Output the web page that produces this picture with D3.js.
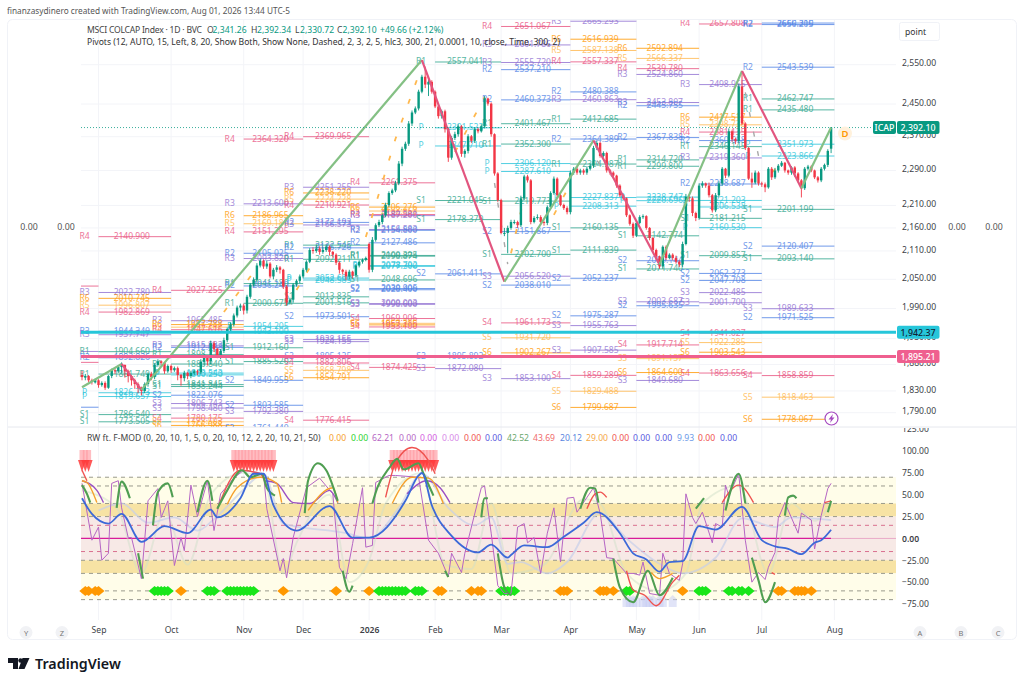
<!DOCTYPE html>
<html>
<head>
<meta charset="utf-8">
<title>MSCI COLCAP Index</title>
<script src="https://cdn.jsdelivr.net/npm/d3@7"></script>
<style>
  body { margin: 0; background: #fff; }
  text { font-family: "Noto Sans", "Open Sans", sans-serif; }
</style>
</head>
<body>
<svg id="chart" width="1024" height="685"></svg>
<script>
// daily candles, one value per session
const opens = [
  1860,1855,1858,1850,1846,1850,1841,1845,1836,1858,
  1869,1867,1875,1879,1867,1858,1850,1843,1836,1830,
  1843,1862,1856,1879,1886,1883,1867,1877,1869,1873,
  1860,1854,1864,1858,1864,1867,1865,1885,1894,1886,
  1921,1910,1898,1906,1927,1949,1958,1976,1992,1996,
  1986,2014,2039,2049,2079,2089,2077,2083,2056,2070,
  2075,2070,2035,2002,2008,2039,2047,2056,2070,2087,
  2112,2110,2115,2108,2112,2119,2108,2102,2085,2070,
  2066,2056,2066,2058,2079,2087,2091,2125,2070,2134,
  2166,2173,2188,2211,2238,2244,2260,2306,2341,2353,
  2402,2429,2439,2481,2519,2499,2506,2481,2444,2420,
  2432,2388,2320,2367,2376,2395,2329,2336,2371,2360,
  2388,2383,2395,2464,2451,2376,2283,2222,2149,2149,
  2160,2173,2173,2166,2226,2276,2267,2173,2182,2184,
  2173,2171,2206,2238,2271,2233,2211,2204,2195,2285,
  2294,2285,2290,2285,2294,2301,2343,2355,2324,2331,
  2290,2285,2278,2255,2233,2226,2188,2169,2143,2171,
  2184,2186,2160,2138,2112,2098,2077,2119,2095,2102,
  2095,2087,2081,2125,2229,2226,2193,2182,2255,2260,
  2255,2233,2199,2233,2260,2294,2278,2383,2364,2360,
  2494,2402,2343,2271,2262,2285,2260,2258,2251,2294,
  2274,2290,2301,2308,2290,2285,2297,2283,2267,2249,
  2294,2299,2290,2274,2267,2294,2303,2341.26
];
const highs = [
  1868,1862,1860,1853,1853,1852,1848,1848,1860,1872,
  1872,1878,1884,1880,1870,1860,1853,1846,1838,1846,
  1865,1866,1882,1890,1888,1885,1880,1880,1876,1876,
  1862,1868,1866,1868,1870,1870,1890,1900,1896,1926,
  1925,1912,1910,1932,1952,1962,1980,1996,2000,2000,
  2018,2042,2054,2084,2094,2092,2090,2086,2074,2080,
  2078,2072,2038,2012,2042,2050,2060,2074,2090,2116,
  2118,2124,2120,2118,2124,2122,2110,2105,2088,2072,
  2070,2070,2068,2082,2090,2094,2098,2128,2140,2170,
  2178,2192,2216,2242,2248,2266,2312,2346,2358,2408,
  2434,2444,2486,2524,2545,2512,2510,2484,2448,2436,
  2436,2392,2372,2382,2400,2398,2340,2376,2374,2392,
  2392,2400,2470,2466,2454,2378,2286,2225,2160,2165,
  2178,2178,2176,2232,2280,2280,2270,2186,2190,2188,
  2176,2210,2242,2276,2274,2236,2214,2208,2290,2298,
  2298,2294,2294,2298,2305,2348,2360,2358,2335,2334,
  2293,2288,2280,2258,2236,2228,2190,2172,2175,2188,
  2190,2188,2162,2140,2115,2100,2122,2122,2105,2105,
  2100,2090,2130,2236,2234,2230,2196,2260,2265,2262,
  2262,2236,2238,2265,2298,2296,2390,2386,2368,2500,
  2530,2405,2345,2285,2290,2288,2264,2262,2298,2298,
  2296,2305,2312,2310,2292,2300,2300,2286,2270,2298,
  2303,2302,2292,2277,2298,2306,2340,2392.34
];
const lows = [
  1850,1850,1846,1842,1844,1836,1838,1832,1834,1854,
  1862,1864,1864,1855,1846,1840,1834,1826,1822,1826,
  1838,1850,1852,1876,1878,1862,1864,1864,1866,1850,
  1840,1848,1852,1854,1860,1860,1862,1878,1878,1880,
  1904,1892,1890,1902,1923,1945,1954,1972,1985,1978,
  1980,2010,2035,2045,2075,2072,2072,2052,2050,2065,
  2062,2030,1996,1998,2002,2035,2042,2052,2066,2084,
  2104,2106,2102,2104,2108,2100,2096,2080,2062,2060,
  2048,2050,2052,2054,2075,2083,2088,2064,2065,2130,
  2162,2168,2184,2207,2234,2240,2256,2300,2336,2348,
  2396,2425,2434,2477,2490,2470,2476,2440,2414,2414,
  2380,2310,2315,2362,2370,2322,2320,2330,2355,2355,
  2378,2380,2390,2446,2370,2278,2218,2146,2142,2105,
  2156,2168,2160,2162,2222,2262,2168,2170,2178,2168,
  2165,2166,2202,2234,2228,2208,2200,2190,2190,2280,
  2280,2280,2280,2280,2290,2296,2338,2320,2320,2285,
  2280,2272,2250,2229,2222,2184,2165,2138,2140,2168,
  2180,2156,2133,2107,2094,2072,2072,2090,2092,2090,
  2083,2076,2076,2122,2218,2186,2175,2178,2250,2250,
  2228,2194,2195,2228,2255,2272,2274,2358,2352,2356,
  2398,2338,2268,2250,2258,2255,2252,2240,2248,2268,
  2270,2285,2298,2285,2280,2280,2275,2262,2228,2245,
  2290,2286,2270,2262,2263,2290,2298,2330.72
];
const closes = [
  1856,1858,1850,1847,1850,1841,1845,1836,1858,1869,
  1867,1875,1879,1867,1858,1850,1843,1836,1830,1843,
  1862,1856,1879,1886,1883,1867,1877,1869,1873,1860,
  1854,1864,1858,1864,1867,1865,1885,1894,1886,1921,
  1910,1898,1906,1927,1949,1958,1976,1992,1996,1986,
  2014,2039,2049,2079,2089,2077,2083,2056,2070,2075,
  2070,2035,2002,2008,2039,2047,2056,2070,2087,2112,
  2110,2115,2108,2112,2119,2108,2102,2085,2070,2066,
  2056,2066,2058,2079,2087,2091,2095,2070,2134,2166,
  2173,2188,2211,2238,2244,2260,2306,2341,2353,2402,
  2429,2439,2481,2519,2499,2506,2481,2444,2420,2432,
  2388,2320,2367,2376,2395,2329,2336,2371,2360,2388,
  2383,2395,2464,2451,2376,2283,2222,2149,2149,2160,
  2173,2173,2166,2226,2276,2267,2173,2182,2184,2173,
  2171,2206,2238,2271,2233,2211,2204,2195,2285,2294,
  2285,2290,2285,2294,2301,2343,2355,2324,2331,2290,
  2285,2278,2255,2233,2226,2188,2169,2143,2171,2184,
  2186,2160,2138,2112,2098,2077,2119,2095,2102,2095,
  2087,2081,2125,2229,2226,2193,2182,2255,2260,2255,
  2233,2199,2233,2260,2294,2278,2383,2364,2360,2494,
  2402,2343,2271,2262,2285,2260,2258,2251,2294,2274,
  2290,2301,2308,2290,2285,2297,2283,2267,2249,2294,
  2299,2290,2274,2267,2294,2303,2336,2392.10
];

// month ticks, as session numbers
const monthBars = [5, 27, 49, 67, 87, 107, 127, 148, 168, 187, 206, 228];
const monthLabels = ["Sep", "Oct", "Nov", "Dec", "2026", "Feb", "Mar", "Apr", "May", "Jun", "Jul", "Aug"];
const priceTicks = [2550, 2450, 2370, 2290, 2210, 2160, 2110, 2050, 1990, 1930, 1880, 1830, 1790];
const oscTicks = [125, 100, 75, 50, 25, 0, -25, -50, -75];

// pivot levels, one list per month
const pivotsSep = [["R4",2140.900],["R3",2022.780],["R6",2010.745],["R5",1996.807],["R4",1982.869],["R2",1944.340],["R3",1937.747],["R1",1904.660],["R2",1892.826],["R1",1861.749],["P",1826.713],["P",1819.657],["S1",1786.540],["S1",1773.505]];
const pivotsOct = [["R4",2027.255],["R3",1965.485],["R6",1957.788],["R5",1952.702],["R4",1947.616],["R3",1915.883],["R2",1912.888],["R1",1898.714],["R1",1880.840],["P",1863.543],["P",1860.250],["S1",1841.845],["S1",1838.244],["S2",1822.076],["S3",1806.743],["S3",1798.480],["S4",1780.175],["S5",1773.503],["S6",1766.988]];
const pivotsNov = [["R4",2364.320],["R3",2213.600],["R6",2186.965],["R5",2169.186],["R4",2151.295],["R2",2105.025],["R3",2093.820],["R1",2041.180],["R2",2036.240],["R1",2000.675],["P",1954.205],["P",1943.100],["S1",1912.160],["S1",1885.520],["S2",1849.955],["S2",1803.585],["S3",1792.380],["S2",1761.440]];
const pivotsDec = [["R4",2369.965],["R3",2251.255],["R6",2238.220],["R5",2224.228],["R4",2210.921],["R2",2172.193],["R3",2166.573],["R1",2122.545],["R2",2116.726],["R1",2092.211],["P",2052.600],["P",2048.585],["S1",2013.835],["S1",2001.516],["S2",1973.501],["S3",1928.155],["S3",1924.155],["S2",1895.125],["S4",1882.806],["S5",1868.798],["S6",1854.791],["S4",1776.415]];
const pivotsJan = [["R4",2261.375],["R6",2206.276],["R5",2197.450],["R4",2189.581],["R3",2187.200],["R3",2156.583],["R2",2154.800],["R2",2127.486],["R1",2100.395],["R1",2098.874],["P",2078.792],["P",2077.300],["S1",2048.696],["S2",2030.905],["S2",2028.400],["S3",2000.003],["S3",1998.600],["S4",1969.906],["S5",1960.300],["S6",1957.215],["S4",1953.100],["S4",1874.425]];
const pivotsFeb = [["R1",2557.041],["P",2391.523],["P",2347.710],["S1",2221.045],["S1",2178.379],["S2",2061.411],["S2",1895.892],["S3",1872.080]];
const pivotsMar = [["R4",2651.067],["R3",2601.786],["R3",2555.720],["R2",2537.210],["R2",2460.373],["R1",2401.467],["R1",2352.300],["P",2306.120],["P",2287.610],["S1",2219.773],["S2",2151.867],["S1",2102.700],["S3",2056.520],["S2",2038.010],["S4",1961.173],["S5",1931.720],["S6",1902.267],["S3",1853.100]];
const pivotsApr = [["R3",2665.293],["R6",2616.939],["R5",2587.138],["R4",2557.337],["R2",2480.388],["R3",2460.863],["R1",2412.685],["R2",2364.389],["R1",2304.987],["P",2227.837],["P",2208.313],["S1",2160.135],["S1",2111.839],["S2",2052.237],["S2",1975.287],["S3",1955.763],["S3",1907.585],["S4",1859.289],["S5",1829.488],["S6",1799.687]];
const pivotsMay = [["R6",2592.894],["R5",2566.337],["R4",2539.780],["R3",2524.860],["R3",2453.807],["R2",2445.755],["R2",2367.838],["R1",2314.720],["R1",2299.800],["P",2228.747],["P",2220.696],["S1",2142.774],["S2",2089.144],["S1",2071.740],["S3",2003.687],["S2",1995.635],["S4",1917.714],["S5",1891.157],["S6",1864.600],["S3",1849.680]];
const pivotsJun = [["R4",2657.808],["R3",2498.965],["R6",2417.517],["R5",2398.738],["R4",2381.135],["R2",2360.668],["R1",2346.145],["R3",2319.360],["R2",2258.687],["P",2221.203],["P",2206.538],["S1",2181.215],["P",2160.530],["S1",2099.857],["S2",2062.373],["S2",2047.708],["S3",2022.485],["S3",2001.700],["S4",1941.027],["S5",1922.285],["S6",1903.543],["S4",1863.656]];
const pivotsJul = [["R2",2660.310],["R2",2656.205],["R2",2543.539],["R1",2462.747],["R1",2435.480],["P",2351.973],["P",2323.866],["S1",2201.199],["S2",2120.407],["S1",2093.140],["S3",1989.633],["S2",1971.525],["S4",1858.859],["S5",1818.463],["S6",1778.067]];
const pivotMonths = [pivotsSep, pivotsOct, pivotsNov, pivotsDec, pivotsJan, pivotsFeb, pivotsMar, pivotsApr, pivotsMay, pivotsJun, pivotsJul];
const stubLevels = [["R4",2036],["R3",1905],["R4",1884],["R2",1800]];

// zigzag turning points [session, price]
const zigzag = [[0,1837],[12,1881],[18,1832],[103,2562],[128,2045],[155,2361],[175,2081],[200,2534],[218,2249],[227,2392.1]];
const dashUp = [
  [[43,1983],[52,2065]],
  [[65,2028],[70,2086]],
  [[86,2140],[95,2365],[102,2523]],
  [[113,2333],[122,2467]],
  [[130,2105],[134,2228]],
  [[143,2189],[148,2259]],
  [[209,2285],[211,2300]]
];
const dashDown = [
  [[125,2261],[129,2082]],
  [[156,2313],[161,2273]],
  [[201,2479],[205,2324]]
];

const lastClose = 2392.10;
const upperLine = 1942.37;
const lowerLine = 1895.21;

// oscillator
const oscBands = [[70,40,"#fffde9"],[40,25,"#f7e3a4"],[25,-25,"#f7e9e6"],[-25,-40,"#f7e3a4"],[-40,-70,"#fffde9"]];
const oscGrayLevels = [70,60,40,25,-25,-40,-60,-70];
const oscPinkLevels = [15,-15];
const fastLine = [[0,63],[3,-2],[5,13],[6,-25],[8,-17],[9,63],[11,66],[12,35],[14,1],[15,1],[18,-46],[20,43],[23,57],[24,24],[26,43],[28,-31],[30,1],[31,-14],[33,61],[35,25],[38,66],[40,9],[42,51],[46,69],[49,78],[55,74],[56,34],[60,-37],[61,-23],[62,-45],[64,1],[68,58],[72,69],[76,51],[78,-33],[80,-46],[82,-6],[85,58],[86,-10],[88,-8],[89,64],[93,72],[95,72],[102,70],[105,-2],[108,-17],[111,-44],[112,-17],[115,-39],[116,-17],[121,58],[122,60],[124,6],[126,-54],[128,-63],[130,-63],[131,-27],[132,13],[134,17],[135,-5],[137,1],[139,-40],[141,6],[143,35],[145,-27],[147,46],[149,47],[150,30],[155,58],[157,29],[159,-22],[161,-23],[165,-40],[167,-40],[169,-42],[170,-27],[172,-63],[175,-65],[176,-17],[178,-40],[181,-48],[182,-29],[183,51],[185,24],[186,17],[188,30],[191,-5],[192,17],[194,13],[195,61],[196,49],[199,74],[201,-2],[203,-50],[205,-39],[207,-47],[208,-33],[210,-16],[211,23],[213,41],[217,6],[218,29],[221,21],[222,-12],[224,26],[226,57],[227,63]];
const blueLine = [[0,46],[3,28],[8,17],[12,28],[18,-4],[25,14],[32,6],[39,33],[41,24],[48,46],[52,74],[55,74],[58,38],[65,9],[75,37],[82,1],[87,1],[98,43],[102,72],[103,75],[106,38],[112,3],[120,-16],[124,-7],[129,-22],[130,-19],[134,-8],[141,-10],[146,2],[152,18],[156,30],[163,6],[167,-17],[171,-24],[175,-38],[178,-27],[182,-26],[187,14],[192,10],[200,36],[206,-2],[210,-9],[214,-12],[218,-18],[222,-5],[224,-2],[227,10]];
const slateLine = [[5,32],[12,40],[20,18],[28,24],[35,9],[40,22],[49,56],[55,74],[61,17],[80,6],[87,0],[96,35],[103,74],[111,35],[119,15],[124,24],[129,-29],[133,-27],[141,-40],[147,-27],[157,29],[165,0],[175,-29],[182,-40],[192,-22],[200,23],[210,13],[215,24],[227,21]];
const paleLine = [[0,55],[10.5,35],[18,-40],[25,30],[32,-30],[39,50],[49,75],[55,70],[61,-40],[65,-5],[75,50],[81,-50],[87,-25],[92,40],[103,75],[110,-30],[118,-35],[124,40],[130,-40],[140,-30],[152,45],[157,40],[165,-40],[175,-60],[183,-40],[188,40],[199,60],[208,-40],[215,40],[222,20],[227,40]];
const greenRuns = [
  [[0,61],[1.5,51],[2.5,41]],[[10.5,35],[12,65],[14.5,46]],[[17,-17],[18.5,-46]],
  [[21.5,15],[23,53],[26,63],[27.5,47]],[[35,30],[38,66],[39.5,43]],
  [[41,34],[44,55],[48.5,78],[51,70],[54.5,74],[56,58],[58.5,49]],
  [[67.5,29],[68.5,66],[71.5,86],[74,78],[77.5,43]],[[79,-37],[81,-61],[82,-54]],
  [[88,40],[89.5,58],[93,80],[95.5,91],[97.5,79],[102,86],[103.5,74],[106.5,49]],
  [[110,-37],[111,-44]],[[121,24],[122,46],[123,46]],[[126,-17],[128,-56],[130,-65]],
  [[151,34],[154,58],[155.5,57],[156.5,41]],
  [[161,-23],[163,-56],[167,-73],[171.5,-37],[175,-65],[179,-45]],
  [[186,34],[188.5,46]],[[195,32],[199,74],[201,40]],
  [[203,-22],[205,-48],[207,-73],[210,-50]],[[213,26],[214,47],[215.5,49],[216.5,46]],[[226,30],[227,43]]
];
const redRuns = [
  [[0,78],[1.5,66]],[[41,34],[48,78],[54,74],[56,60]],[[92,47],[95,86],[100,104],[105,89],[107,74]],
  [[153,34],[155.5,51],[157,53],[159,47]],[[165,-37],[167,-59],[170.5,-65],[174,-77],[179,-50],[181,-42]],
  [[194,41],[199,61],[203.5,41]],[[209,-39],[210,-41]],[[225,41],[227,43]]
];
const orangeRuns = [
  [[0,66],[1.5,64],[4.5,41]],[[44,39],[47,58],[54,70],[59,63],[60.5,41]],
  [[68.5,32],[76,58],[77.5,41]],[[94,40],[100,70],[105,69],[109.5,40]],[[172.5,-39],[175,-46],[179,-40]]
];
const violetRuns = [
  [[0,66],[4.5,55],[6.5,41]],[[55.5,66],[59,63],[64,41],[69,40],[75,55],[77.5,41]],[[98.5,51],[104.5,66],[108.5,58],[111.5,41]]
];
const orangeDiamonds = [1,2,4,5,30,61,77,87,108,109,118,120,121,145,146,147,157,158,159,161,182,211,212,216,217,218,219,221];
const greenDiamonds = [22,23,24,25,26,38,39,40,44,45,46,47,48,49,50,51,52,90,91,92,93,94,95,96,97,98,101,102,103,127,128,129,130,131,165,166,187,188,189,196,197,199,200,202];
const topSignals = [0,1,2,46,47,48,49,50,51,52,53,54,55,56,57,58,94,95,96,97,98,99,100,101,102,103,104,105,106,107];
const bottomSignals = [165,166,167,168,170,171,172,173,175,176,179];

// legend values of the oscillator
const oscValues = ["0.00","0.00","62.21","0.00","0.00","0.00","0.00","0.00","42.52","43.69","20.12","29.00","0.00","0.00","0.00","9.93","0.00","0.00"];
const oscValueColors = ["#f5a02c","#2ed32e","#b565c4","#b565c4","#d45ce0","#d88ae8","#ef5350","#5a5ae0","#6aa86c","#ef6b6b","#5a86e0","#f5a94a","#ef5350","#5a5ae0","#5a5ae0","#6b9ae8","#ef5350","#5a5ae0"];
const oscValueSpots = [329,351,372,399,420,442,464,485,507,533,560,586,612,633,655,677,698,720];

const pivotColors = {
  "1": "#2da58c", "2": "#4f82e6", "3": "#8f6fd2", "4": "#e9527f",
  "5": "#ffb84d", "6": "#ff9800", "P": "#27c4da"
};
const pivotColor = (name) => pivotColors[name.slice(-1)];
const upColor = "#089981";
const downColor = "#f23645";

const svg = d3.select("#chart");
const paneLeft = 81, paneRight = 896, paneTop = 20, priceBottom = 427, oscBottom = 620;

const xBar = d3.scaleLinear().domain([0, 228]).range([82, 834.4]);
const yPrice = d3.scaleLog().domain([2550, 1790]).range([64.7, 412.7]);
const yOsc = d3.scaleLinear().domain([100, -75]).range([451, 604]);

// frame
svg.append("rect").attr("x", 7.5).attr("y", 19.5).attr("width", 1009).attr("height", 620)
  .attr("rx", 5).attr("fill", "#fff").attr("stroke", "#f0f2f7");

const defs = svg.append("defs");
defs.append("clipPath").attr("id", "priceClip").append("rect")
  .attr("x", 8).attr("y", paneTop).attr("width", paneRight - 8).attr("height", priceBottom - paneTop);
defs.append("clipPath").attr("id", "oscAxisClip").append("rect")
  .attr("x", paneRight).attr("y", priceBottom + 1).attr("width", 120).attr("height", oscBottom - priceBottom);

// grid
svg.append("g").selectAll("line").data(monthBars).join("line")
  .attr("x1", (d) => xBar(d)).attr("x2", (d) => xBar(d))
  .attr("y1", paneTop).attr("y2", oscBottom)
  .attr("stroke", "#f3f4f8");
svg.append("g").selectAll("line").data(priceTicks).join("line")
  .attr("x1", paneLeft).attr("x2", paneRight)
  .attr("y1", (d) => yPrice(d)).attr("y2", (d) => yPrice(d))
  .attr("stroke", "#f3f4f8");
svg.append("line").attr("x1", 8).attr("x2", 1016).attr("y1", priceBottom).attr("y2", priceBottom).attr("stroke", "#e6e8ee");

const pricePane = svg.append("g").attr("clip-path", "url(#priceClip)");

// pivots
const stubs = pricePane.append("g");
stubs.selectAll("line").data(stubLevels).join("line")
  .attr("x1", xBar(0) - 1).attr("x2", xBar(monthBars[0]))
  .attr("y1", (d) => yPrice(d[1])).attr("y2", (d) => yPrice(d[1]))
  .attr("stroke", (d) => pivotColor(d[0])).attr("opacity", 0.8);

pivotMonths.forEach((levels, m) => {
  const x1 = xBar(monthBars[m]);
  const x2 = xBar(monthBars[m + 1]);
  const g = pricePane.append("g");
  g.selectAll("line").data(levels).join("line")
    .attr("x1", x1).attr("x2", x2)
    .attr("y1", (d) => yPrice(d[1])).attr("y2", (d) => yPrice(d[1]))
    .attr("stroke", (d) => pivotColor(d[0])).attr("stroke-width", 1).attr("opacity", 0.8);
  g.selectAll("text.value").data(levels).join("text").attr("class", "value")
    .attr("x", (x1 + x2) / 2 - 3).attr("y", (d) => yPrice(d[1]) + 2.5)
    .attr("text-anchor", "middle").attr("font-size", 8.5)
    .attr("fill", (d) => pivotColor(d[0])).attr("opacity", 0.8)
    .text((d) => d[1].toFixed(3));
  g.selectAll("text.name").data(levels).join("text").attr("class", "name")
    .attr("x", x1 - 14).attr("y", (d) => yPrice(d[1]) + 2.5)
    .attr("text-anchor", "middle").attr("font-size", 8.5)
    .attr("fill", (d) => pivotColor(d[0])).attr("opacity", 0.8)
    .text((d) => d[0]);
});

// dashed zigzag hints
const priceLine = d3.line().x((d) => xBar(d[0])).y((d) => yPrice(d[1]));
pricePane.append("g").selectAll("path").data(dashUp).join("path")
  .attr("d", priceLine).attr("fill", "none").attr("stroke", "#ffb84d")
  .attr("stroke-width", 1.8).attr("stroke-dasharray", "5 15");
pricePane.append("g").selectAll("path").data(dashDown).join("path")
  .attr("d", priceLine).attr("fill", "none").attr("stroke", "#a8a8a8")
  .attr("stroke-width", 1.4).attr("stroke-dasharray", "5 15");

// candles
const bars = closes.map((c, i) => ({ i, o: opens[i], h: highs[i], l: lows[i], c }));
const candles = pricePane.append("g");
candles.selectAll("line").data(bars).join("line")
  .attr("x1", (d) => xBar(d.i)).attr("x2", (d) => xBar(d.i))
  .attr("y1", (d) => yPrice(d.h)).attr("y2", (d) => yPrice(d.l))
  .attr("stroke", (d) => (d.c >= d.o ? upColor : downColor)).attr("stroke-width", 0.9);
candles.selectAll("rect").data(bars).join("rect")
  .attr("x", (d) => xBar(d.i) - 1.2).attr("width", 2.4)
  .attr("y", (d) => yPrice(Math.max(d.o, d.c)))
  .attr("height", (d) => Math.max(1, Math.abs(yPrice(d.o) - yPrice(d.c))))
  .attr("fill", (d) => (d.c >= d.o ? upColor : downColor));

// zigzag
d3.pairs(zigzag).forEach(([a, b]) => {
  pricePane.append("path").attr("d", priceLine([a, b])).attr("fill", "none")
    .attr("stroke", b[1] > a[1] ? "#84c084" : "#e2557f").attr("stroke-width", 2.2);
});

// last close and the two horizontal levels
svg.append("line").attr("x1", paneLeft).attr("x2", paneRight)
  .attr("y1", yPrice(lastClose)).attr("y2", yPrice(lastClose))
  .attr("stroke", upColor).attr("stroke-width", 0.8).attr("stroke-dasharray", "1 2");
svg.append("line").attr("x1", paneLeft).attr("x2", paneRight)
  .attr("y1", yPrice(upperLine)).attr("y2", yPrice(upperLine))
  .attr("stroke", "#26c6da").attr("stroke-width", 3);
svg.append("line").attr("x1", paneLeft).attr("x2", paneRight)
  .attr("y1", yPrice(lowerLine)).attr("y2", yPrice(lowerLine))
  .attr("stroke", "#ef5f8f").attr("stroke-width", 3);

// oscillator bands
svg.append("g").selectAll("rect").data(oscBands).join("rect")
  .attr("x", paneLeft).attr("width", paneRight - paneLeft)
  .attr("y", (d) => yOsc(d[0])).attr("height", (d) => yOsc(d[1]) - yOsc(d[0]))
  .attr("fill", (d) => d[2]);
svg.append("g").selectAll("line").data(oscGrayLevels).join("line")
  .attr("x1", paneLeft).attr("x2", paneRight)
  .attr("y1", (d) => yOsc(d)).attr("y2", (d) => yOsc(d))
  .attr("stroke", "#9a9a8c").attr("stroke-dasharray", "4 4");
svg.append("g").selectAll("line").data(oscPinkLevels).join("line")
  .attr("x1", paneLeft).attr("x2", paneRight)
  .attr("y1", (d) => yOsc(d)).attr("y2", (d) => yOsc(d))
  .attr("stroke", "#d9708f").attr("stroke-dasharray", "4 4");
svg.append("line").attr("x1", paneLeft).attr("x2", xBar(227))
  .attr("y1", yOsc(0)).attr("y2", yOsc(0)).attr("stroke", "#d81b9a").attr("stroke-width", 1.2);
svg.append("line").attr("x1", xBar(227)).attr("x2", paneRight)
  .attr("y1", yOsc(0)).attr("y2", yOsc(0)).attr("stroke", "#e9a9c8").attr("stroke-width", 1);

// oscillator signals
const signals = svg.append("g");
signals.selectAll("rect").data(topSignals).join("rect")
  .attr("x", (d) => xBar(d) - 2.5).attr("width", 5)
  .attr("y", yOsc(100) - 1).attr("height", 11)
  .attr("fill", "#ff9aa2").attr("opacity", 0.65);
signals.selectAll("path.tri").data(topSignals).join("path").attr("class", "tri")
  .attr("d", (d) => {
    const x = xBar(d), y = yOsc(100) + 9;
    return `M${x - 4},${y}L${x + 4},${y}L${x},${y + 12}Z`;
  })
  .attr("fill", "#ff3b3b").attr("opacity", 0.85);
signals.selectAll("path.low").data(bottomSignals).join("path").attr("class", "low")
  .attr("d", (d) => {
    const x = xBar(d), y = yOsc(-60);
    return `M${x - 4},${y + 8}L${x},${y + 4}L${x + 4},${y + 8}L${x + 4},${y + 16}L${x - 4},${y + 16}Z`;
  })
  .attr("fill", "#c9cdf2").attr("opacity", 0.55);
const diamond = (d) => {
  const x = xBar(d), y = yOsc(-60);
  return `M${x - 6},${y}L${x},${y - 5}L${x + 6},${y}L${x},${y + 5}Z`;
};
signals.selectAll("path.o").data(orangeDiamonds).join("path").attr("class", "o").attr("d", diamond).attr("fill", "#ff9800");
signals.selectAll("path.g").data(greenDiamonds).join("path").attr("class", "g").attr("d", diamond).attr("fill", "#19e619");

// oscillator lines
const oscLine = d3.line().x((d) => xBar(d[0])).y((d) => yOsc(d[1]));
const oscCurve = d3.line().x((d) => xBar(d[0])).y((d) => yOsc(d[1])).curve(d3.curveMonotoneX);
const oscGroup = svg.append("g").attr("fill", "none");
oscGroup.append("path").attr("d", oscCurve(paleLine)).attr("stroke", "#cfe0c9").attr("stroke-width", 1.8).attr("opacity", 0.5);
oscGroup.append("path").attr("d", oscCurve(slateLine)).attr("stroke", "#c6cfe9").attr("stroke-width", 1.8).attr("opacity", 0.7);
oscGroup.append("path").attr("d", oscLine(fastLine)).attr("stroke", "#b565c4").attr("stroke-width", 1);
const drawRuns = (runs, color, width) => {
  oscGroup.append("g").selectAll("path").data(runs).join("path")
    .attr("d", oscCurve).attr("stroke", color).attr("stroke-width", width);
};
drawRuns(violetRuns, "#9c4fc4", 1.4);
drawRuns(orangeRuns, "#f5a02c", 1.4);
drawRuns(redRuns, "#ef5350", 1.4);
drawRuns(greenRuns, "#4f9e52", 2.1);
oscGroup.append("path").attr("d", oscCurve(blueLine)).attr("stroke", "#3c69d8").attr("stroke-width", 1.8);

// axes
const priceAxis = d3.axisRight(yPrice).tickValues(priceTicks).tickFormat(d3.format(",.2f")).tickSize(0).tickPadding(6);
const gPrice = svg.append("g").attr("transform", `translate(${paneRight},-1.5)`).call(priceAxis);
const oscAxis = d3.axisRight(yOsc).tickValues(oscTicks).tickSize(0).tickPadding(6)
  .tickFormat((d) => d3.format(".2f")(d).replace("-", "\u2212"));
const gOsc = svg.append("g").attr("clip-path", "url(#oscAxisClip)")
  .append("g").attr("transform", `translate(${paneRight},0)`).call(oscAxis);
const timeAxis = d3.axisBottom(xBar).tickValues(monthBars).tickSize(0).tickPadding(6)
  .tickFormat((d, i) => monthLabels[i]);
const gTime = svg.append("g").attr("transform", `translate(0,${oscBottom + 1})`).call(timeAxis);
[gPrice, gOsc, gTime].forEach((g) => {
  g.select(".domain").remove();
  g.selectAll("text").attr("font-family", '"Noto Sans", sans-serif').attr("font-size", 8.6).attr("fill", "#3d3f47");
});
gOsc.selectAll(".tick").filter((d) => d === 0).select("text").attr("font-weight", 600);
gTime.selectAll(".tick").filter((d, i) => monthLabels[i] === "2026").select("text").attr("font-weight", 600);

// price tags
const tag = (x, w, y, fill, color, label, anchor) => {
  svg.append("rect").attr("x", x).attr("y", y - 6.5).attr("width", w).attr("height", 13).attr("rx", 2).attr("fill", fill);
  svg.append("text").attr("x", anchor).attr("y", y + 3.2).attr("text-anchor", "middle")
    .attr("font-size", 8.8).attr("font-weight", 500).attr("fill", color).text(label);
};
tag(873, 23, yPrice(lastClose), upColor, "#fff", "ICAP", 884.5);
tag(897, 42.5, yPrice(lastClose), upColor, "#fff", "2,392.10", 918);
tag(897, 42.5, yPrice(upperLine), "#26c6da", "#123", "1,942.37", 918);
tag(897, 42.5, yPrice(lowerLine), "#ef5f8f", "#fff", "1,895.21", 918);

// header text
svg.append("text").attr("x", 7).attr("y", 14).attr("font-size", 8.6).attr("fill", "#555")
  .attr("textLength", 283).attr("lengthAdjust", "spacingAndGlyphs")
  .text("finanzasydinero created with TradingView.com, Aug 01, 2026 13:44 UTC-5");

const legend1 = svg.append("text").attr("y", 33).attr("font-size", 8.6).attr("fill", "#444");
svg.append("text").attr("x", 87).attr("y", 33).attr("font-size", 8.6).attr("fill", "#444")
  .attr("textLength", 115).attr("lengthAdjust", "spacing")
  .text("MSCI COLCAP Index \u00b7 1D \u00b7 BVC");
[[207,"O","#444"],[212.5,"2,341.26",upColor],[251,"H","#444"],[257,"2,392.34",upColor],[295,"L","#444"],[300,"2,330.72",upColor],
 [337,"C","#444"],[342.5,"2,392.10",upColor],[380,"+49.66 (+2.12%)",upColor]]
  .forEach(([x, t, c]) => legend1.append("tspan").attr("x", x).attr("fill", c).text(t));

svg.append("text").attr("x", 87).attr("y", 45).attr("font-size", 8.6).attr("fill", "#333")
  .attr("textLength", 473).attr("lengthAdjust", "spacing")
  .text("Pivots (12, AUTO, 15, Left, 8, 20, Show Both, Show None, Dashed, 2, 3, 2, 5, hlc3, 300, 21, 0.0001, 10, close, Time, 300, 2)");

const legend2 = svg.append("text").attr("y", 441).attr("font-size", 8.6).attr("fill", "#444");
legend2.append("tspan").attr("x", 87).text("RW ft. F-MOD (0, 20, 10, 1, 5, 0, 20, 10, 12, 2, 20, 10, 21, 50)");
oscValues.forEach((t, i) => legend2.append("tspan").attr("x", oscValueSpots[i]).attr("fill", oscValueColors[i]).text(t));

// empty pane values on the sides
[[29,"0.00"],[66,"0.00"],[957,"0.00"],[994,"0.00"]].forEach(([x, t]) => {
  svg.append("text").attr("x", x).attr("y", 230).attr("text-anchor", "middle").attr("font-size", 8.8).attr("fill", "#555").text(t);
});

// point label box
svg.append("rect").attr("x", 899.5).attr("y", 22.5).attr("width", 40).attr("height", 18).attr("rx", 2).attr("fill", "#fff").attr("stroke", "#f0f2f7");
svg.append("text").attr("x", 905).attr("y", 34.5).attr("font-size", 8.6).attr("fill", "#333").text("point");

// D badge, flash badge
svg.append("circle").attr("cx", 845).attr("cy", 133.5).attr("r", 7).attr("fill", "#fff1dc");
svg.append("text").attr("x", 845).attr("y", 137).attr("text-anchor", "middle").attr("font-size", 9.5).attr("font-weight", 600).attr("fill", "#ff9800").text("D");
svg.append("circle").attr("cx", 831.5).attr("cy", 418.5).attr("r", 6.5).attr("fill", "#fff").attr("stroke", "#a64bc0").attr("stroke-width", 1.2);
svg.append("path").attr("fill", "#a64bc0").attr("d", "M833,414L828.5,419.5H831L830,423L834.5,417.5H832Z");

// round buttons
[[26,"Y"],[62,"Z"],[920,"A"],[961,"B"],[998,"C"]].forEach(([x, t]) => {
  svg.append("circle").attr("cx", x).attr("cy", 632.5).attr("r", 6.5).attr("fill", "#f1f2f5");
  svg.append("text").attr("x", x).attr("y", 635.5).attr("text-anchor", "middle").attr("font-size", 7.5).attr("fill", "#777").text(t);
});

// logo
svg.append("path").attr("fill", "#131722")
  .attr("d", "M8,658H18V669H13V663H8ZM22.5,658H29.5L24.5,669H18.5Z");
svg.append("circle").attr("cx", 20.5).attr("cy", 660.5).attr("r", 2.2).attr("fill", "#131722");
svg.append("text").attr("x", 35).attr("y", 669).attr("font-family", "Inter, sans-serif").attr("font-size", 14.3).attr("font-weight", 600).attr("fill", "#131722").text("TradingView");
</script>
</body>
</html>
